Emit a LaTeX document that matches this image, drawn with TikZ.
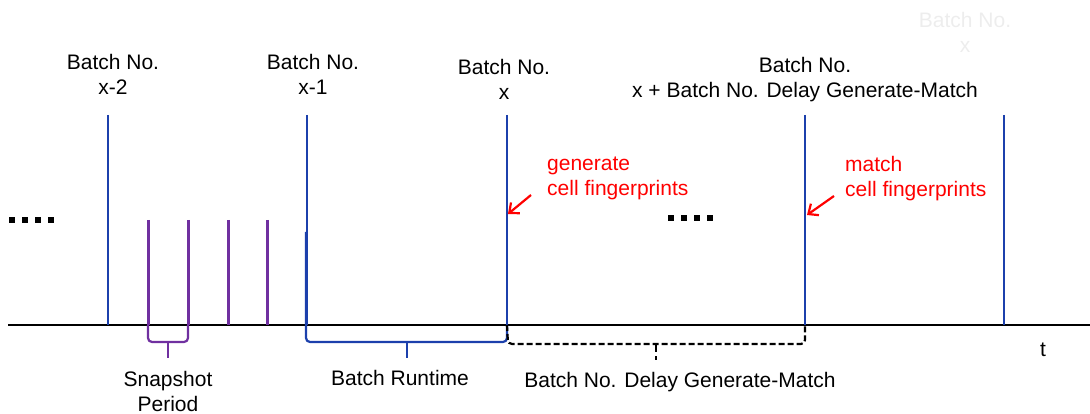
\documentclass[tikz,border=0pt]{standalone}
\usepackage{fontspec}
\setmainfont{Liberation Sans}
\usetikzlibrary{arrows.meta}
\definecolor{batchblue}{RGB}{28,64,172}
\definecolor{snappurple}{RGB}{112,48,160}
\begin{document}
\begin{tikzpicture}[x=1pt,y=-1pt,
  lbl/.style={font=\fontsize{21}{25}\selectfont, align=center, inner sep=0pt},
  redlbl/.style={lbl, text=red, align=left, anchor=west},
  batch/.style={draw=batchblue, line width=2.3pt},
  snap/.style={draw=snappurple, line width=3pt},
  axisline/.style={draw=black, line width=2.2pt},
  brace/.style={rounded corners=4pt, line width=2.2pt},
  note/.style={draw=red, line width=2.2pt, -{Straight Barb[length=8pt,width=14pt,line width=2.2pt]}},
  dot/.style={fill=black, minimum size=6pt, inner sep=0pt},
]
\useasboundingbox (0,0) rectangle (1090,414);

% time axis
\coordinate (ax0) at (8,325);
\coordinate (ax1) at (1090,325);
\draw[axisline] (ax0) -- (ax1);

% batch boundaries
\foreach \n/\x in {b2/108, b1/307, b0/507, bd/805, be/1004} {
  \coordinate (\n top) at (\x,115);
  \coordinate (\n bot) at (\x,325);
  \draw[batch] (\n top) -- (\n bot);
}

% snapshot ticks
\foreach \n/\x in {s1/148, s2/188, s3/228, s4/267} {
  \coordinate (\n top) at (\x,220);
  \coordinate (\n bot) at (\x,325);
  \draw[snap] (\n top) -- (\n bot);
}

% ellipsis marks
\foreach \i/\x in {1/12, 2/25, 3/38, 4/51} { \node[dot] (ldot\i) at (\x,220) {}; }
\foreach \i/\x in {1/671, 2/684, 3/697, 4/710} { \node[dot] (mdot\i) at (\x,218) {}; }

% batch labels
\node[lbl] (lx2) at (113,74.5) {Batch No.\\x-2};
\node[lbl] (lx1) at (313,74.5) {Batch No.\\x-1};
\node[lbl] (lx0) at (504,79.5) {Batch No.\\x};
\node[lbl] (lxd) at (805,79.5) {Batch No.\\x + Batch No. Delay Generate-Match};
\node[lbl, text=black!7] (lxe) at (965,32) {Batch No.\\x};

% annotations
\node[redlbl] (gen) at (547,178) {generate\\cell fingerprints};
\node[redlbl] (mat) at (845,179) {match\\cell fingerprints};
\coordinate (genhit) at (508,214);
\coordinate (mathit) at (807,215);
\draw[note] (531,195) -- (genhit);
\draw[note] (834,196) -- (mathit);

% snapshot period brace
\draw[brace, draw=snappurple] (s1bot) -- (148,342) -- (168,342) -- (188,342) -- (s2bot);
\draw[draw=snappurple, line width=2.2pt] (168,341) -- (168,358);
\node[lbl] (snaplbl) at (168,391) {Snapshot\\Period};

% batch runtime brace
\draw[brace, draw=batchblue] (306,232) -- (306,342) -- (407,342) -- (507,342) -- (b0bot);
\draw[draw=batchblue, line width=2.2pt] (407,341) -- (407,358);
\node[lbl] (runlbl) at (400,378) {Batch Runtime};

% delay brace
\draw[brace, draw=black, dash pattern=on 6pt off 3pt] (b0bot) -- (508,344) -- (656,344) -- (805,344) -- (bdbot);
\draw[draw=black, line width=2.2pt, dash pattern=on 9pt off 4pt] (656,343) -- (656,360);
\node[lbl] (dellbl) at (680,382) {Batch No. Delay Generate-Match};

% axis label
\node[lbl] (tlbl) at (1043,350) {t};
\end{tikzpicture}
\end{document}
